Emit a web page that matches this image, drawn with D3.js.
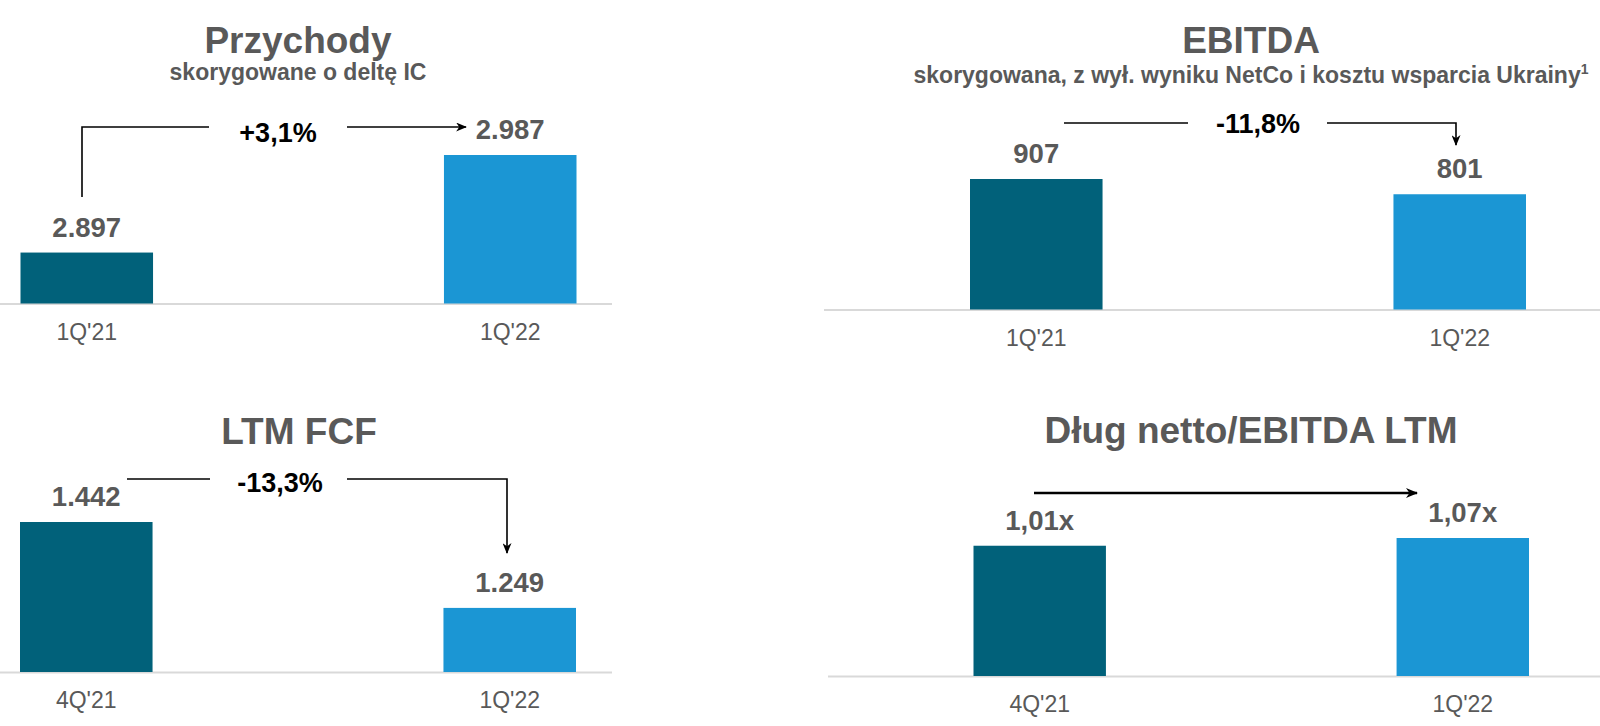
<!DOCTYPE html>
<html><head><meta charset="utf-8">
<script src="https://cdn.jsdelivr.net/npm/d3@7"></script>
<style>html,body{margin:0;padding:0;background:#fff;} svg{display:block;}</style>
</head><body>
<svg id="chart" width="1600" height="726"></svg>
<script>
// ---------- DATA ----------
const revenueCategories = ["1Q'21", "1Q'22"];
const revenueValues = [2897, 2987];
const revenueLabels = ["2.897", "2.987"];
const revenueChange = "+3,1%";

const ebitdaCategories = ["1Q'21", "1Q'22"];
const ebitdaValues = [907, 801];
const ebitdaLabels = ["907", "801"];
const ebitdaChange = "-11,8%";

const fcfCategories = ["4Q'21", "1Q'22"];
const fcfValues = [1442, 1249];
const fcfLabels = ["1.442", "1.249"];
const fcfChange = "-13,3%";

const leverageCategories = ["4Q'21", "1Q'22"];
const leverageValues = [1.01, 1.07];
const leverageLabels = ["1,01x", "1,07x"];
const leverageChange = "";

const titles = ["Przychody", "EBITDA", "LTM FCF", "Dług netto/EBITDA LTM"];
const subtitles = ["skorygowane o deltę IC", "skorygowana, z wył. wyniku NetCo i kosztu wsparcia Ukrainy", "", ""];
const subtitleNotes = ["", "1", "", ""];

// ---------- LAYOUT ----------
const colors = ["#01617a", "#1b96d4"];
const gray = "#595959";
const font = "'Liberation Sans', Arial, Helvetica, sans-serif";

const panels = [
  { cats: revenueCategories, vals: revenueValues, labels: revenueLabels, change: revenueChange,
    title: titles[0], sub: subtitles[0], note: subtitleNotes[0],
    cx: 298, titleY: 53, subY: 80,
    xRange: [20.5, 576.5], yDomainMin: 2850, yRange: [303.5, 155],
    axisX: [0, 612],
    arrow: { path: "M82,197 V127 H209", path2: "M347,127 H466", textX: 278, textY: 142, w: 1.6 } },
  { cats: ebitdaCategories, vals: ebitdaValues, labels: ebitdaLabels, change: ebitdaChange,
    title: titles[1], sub: subtitles[1], note: subtitleNotes[1],
    cx: 1251, titleY: 53, subY: 83,
    xRange: [970, 1526], yDomainMin: 0, yRange: [309.5, 179],
    axisX: [824, 1600],
    arrow: { path: "M1064,123 H1188", path2: "M1327,123 H1456 V145", textX: 1258, textY: 133, w: 1.6 } },
  { cats: fcfCategories, vals: fcfValues, labels: fcfLabels, change: fcfChange,
    title: titles[2], sub: subtitles[2], note: subtitleNotes[2],
    cx: 299, titleY: 444, subY: 0,
    xRange: [20, 576], yDomainMin: 1105, yRange: [672, 522],
    axisX: [0, 612],
    arrow: { path: "M127,479 H210", path2: "M347,479 H507 V553", textX: 280, textY: 492, w: 1.6 } },
  { cats: leverageCategories, vals: leverageValues, labels: leverageLabels, change: leverageChange,
    title: titles[3], sub: subtitles[3], note: subtitleNotes[3],
    cx: 1251, titleY: 443, subY: 0,
    xRange: [973.5, 1529], yDomainMin: 0, yRange: [676, 538],
    axisX: [828, 1600],
    arrow: { path: "", path2: "M1034,493 H1417", textX: 0, textY: 0, w: 2.6 } }
];

const svg = d3.select("#chart").style("font-family", font);

const defs = svg.append("defs");
[["ah-thin", 11, 9], ["ah-thick", 12, 10]].forEach(([id, w, h]) => {
  defs.append("marker")
    .attr("id", id)
    .attr("viewBox", "0 0 12 10")
    .attr("refX", 11).attr("refY", 5)
    .attr("markerWidth", w).attr("markerHeight", h)
    .attr("markerUnits", "userSpaceOnUse")
    .attr("orient", "auto")
    .append("path")
    .attr("d", "M0,0 L12,5 L0,10 L3.5,5 Z")
    .attr("fill", "#000");
});

panels.forEach(p => {
  const g = svg.append("g");
  const data = p.cats.map((c, i) => ({ cat: c, val: p.vals[i], label: p.labels[i], i }));

  const x = d3.scaleBand().domain(p.cats).range(p.xRange).paddingInner(0.687).paddingOuter(0);
  const y = d3.scaleLinear().domain([p.yDomainMin, d3.max(p.vals)]).range(p.yRange);
  const base = p.yRange[0];

  // title
  g.append("text").attr("x", p.cx).attr("y", p.titleY)
    .attr("text-anchor", "middle").attr("fill", gray)
    .attr("font-size", 37).attr("font-weight", "bold").text(p.title);

  if (p.sub) {
    const st = g.append("text").attr("x", p.cx).attr("y", p.subY)
      .attr("text-anchor", "middle").attr("fill", gray)
      .attr("font-size", 23).attr("font-weight", "bold");
    st.append("tspan").text(p.sub);
    if (p.note) st.append("tspan").attr("font-size", 14).attr("dy", -9).text(p.note);
  }

  // axis baseline
  g.append("line").attr("x1", p.axisX[0]).attr("x2", p.axisX[1])
    .attr("y1", base + 0.5).attr("y2", base + 0.5)
    .attr("stroke", "#d9d9d9").attr("stroke-width", 2);

  // bars
  g.selectAll("rect.bar").data(data).join("rect").attr("class", "bar")
    .attr("x", d => x(d.cat)).attr("width", x.bandwidth())
    .attr("y", d => y(d.val)).attr("height", d => base - y(d.val))
    .attr("fill", d => colors[d.i]);

  // value labels
  g.selectAll("text.val").data(data).join("text").attr("class", "val")
    .attr("x", d => x(d.cat) + x.bandwidth() / 2)
    .attr("y", d => y(d.val) - 16)
    .attr("text-anchor", "middle").attr("fill", gray)
    .attr("font-size", 27.5).attr("font-weight", "bold")
    .text(d => d.label);

  // category axis
  const ax = g.append("g").attr("transform", `translate(0,${base})`)
    .call(d3.axisBottom(x).tickSize(0));
  ax.select(".domain").remove();
  ax.selectAll("text").attr("y", 36).attr("dy", 0)
    .attr("font-size", 23).attr("fill", gray).attr("font-family", font);

  // change arrow
  const a = p.arrow;
  const marker = a.w > 2 ? "url(#ah-thick)" : "url(#ah-thin)";
  if (a.path) g.append("path").attr("d", a.path).attr("fill", "none")
    .attr("stroke", "#000").attr("stroke-width", a.w);
  if (a.path2) g.append("path").attr("d", a.path2).attr("fill", "none")
    .attr("stroke", "#000").attr("stroke-width", a.w).attr("marker-end", marker);
  if (p.change) g.append("text").attr("x", a.textX).attr("y", a.textY)
    .attr("text-anchor", "middle").attr("fill", "#000")
    .attr("font-size", 27).attr("font-weight", "bold").text(p.change);
});
</script>
</body></html>
